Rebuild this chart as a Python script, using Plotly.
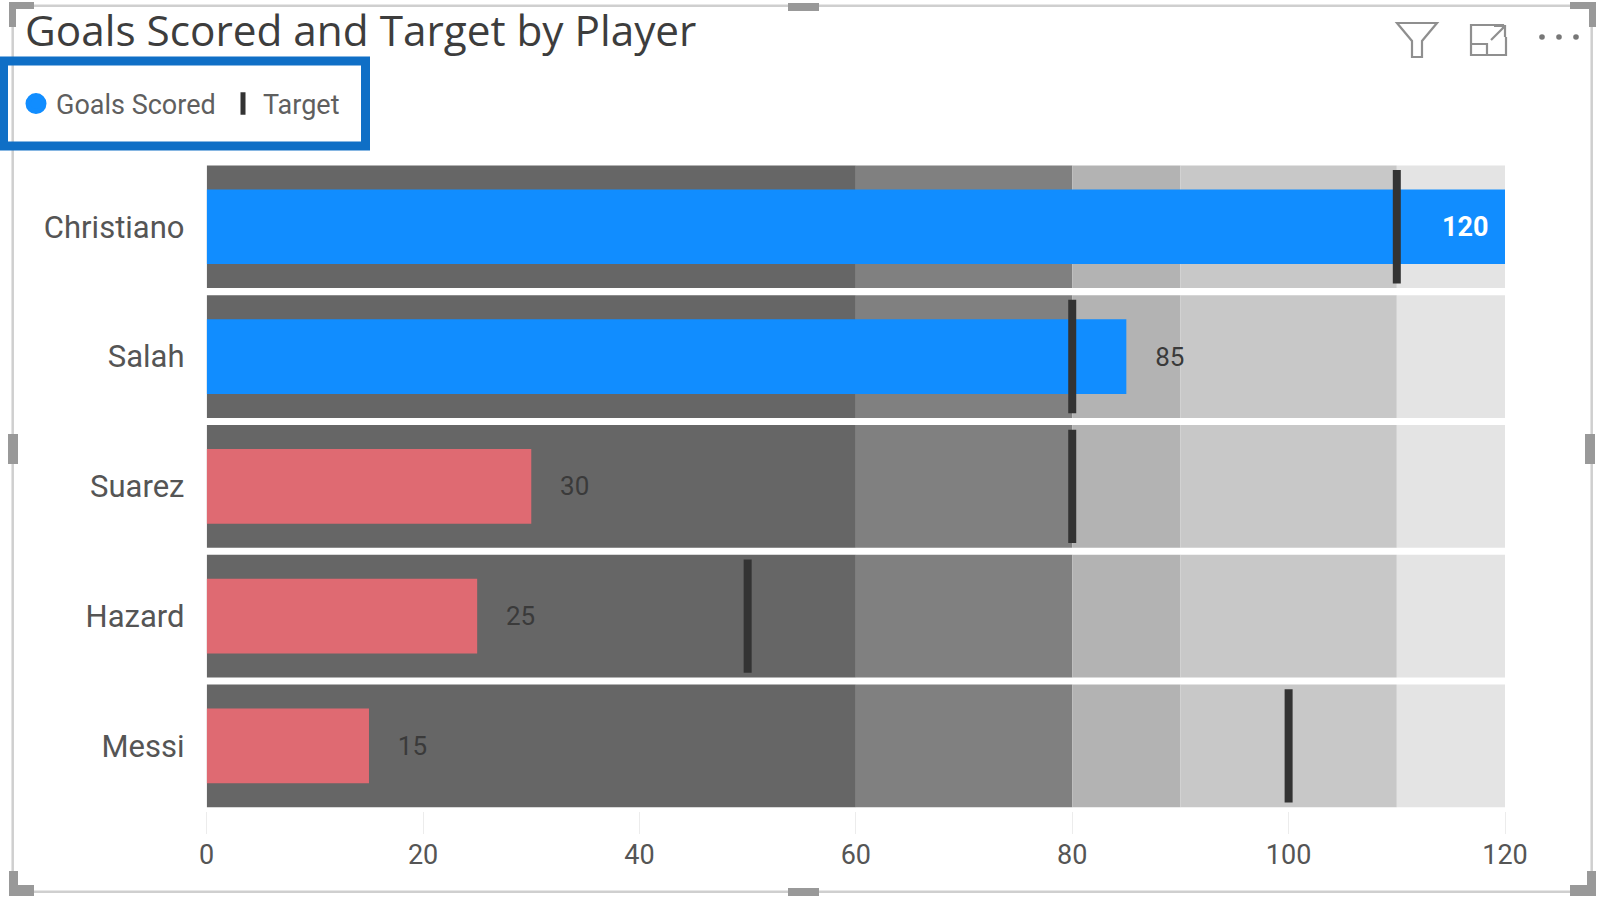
import plotly.graph_objects as go

players = ["Christiano", "Salah", "Suarez", "Hazard", "Messi"]
goals = [120, 85, 30, 25, 15]
targets = [110, 80, 80, 50, 100]
band_starts = [0, 60, 80, 90, 110]
band_sizes = [60, 20, 10, 20, 10]
band_colors = ["#666666", "#808080", "#b3b3b3", "#c8c8c8", "#e4e4e4"]
x_ticks = [0, 20, 40, 60, 80, 100, 120]

BLUE, RED = "#118dff", "#df6a72"
W, H = 1600, 908
FONT = "Roboto"

def px(x):
    return x / W

def py(y):
    return 1 - y / H

fig = go.Figure()
for start, size, color in zip(band_starts, band_sizes, band_colors):
    fig.add_trace(go.Bar(
        y=players, x=[size] * len(players), base=[start] * len(players),
        orientation="h", width=0.945, marker=dict(color=color, line_width=0),
        showlegend=False, hoverinfo="skip"))

bar_colors = [BLUE if g >= t else RED for g, t in zip(goals, targets)]
labels = [f"{g}\u00a0\u00a0" if g >= 120 else f"\u00a0\u00a0\u00a0\u00a0{g}" for g in goals]
positions = ["inside" if g >= 120 else "outside" for g in goals]
fig.add_trace(go.Bar(
    y=players, x=goals, orientation="h", width=0.575,
    marker=dict(color=bar_colors, line_width=0),
    text=labels, textposition=positions, insidetextanchor="end", textangle=0,
    insidetextfont=dict(color="white", size=27, family=FONT, weight="bold"),
    outsidetextfont=dict(color="#3a3a3a", size=26, family=FONT),
    cliponaxis=False, showlegend=False))

fig.add_trace(go.Scatter(
    x=targets, y=players, mode="markers", name="Target",
    marker=dict(symbol="line-ns", size=81, color="#333333",
                line=dict(color="#333333", width=8)),
    cliponaxis=False, showlegend=True))
fig.add_trace(go.Scatter(
    x=[None], y=[None], mode="markers", name="Goals Scored",
    marker=dict(symbol="circle", size=16, color=BLUE, line=dict(color=BLUE, width=5)),
    showlegend=True))

shapes = []
def rect(x0, y0, x1, y1, fill=None, line=None, lw=0):
    shapes.append(dict(type="rect", xref="paper", yref="paper", x0=px(x0), x1=px(x1),
                       y0=py(y1), y1=py(y0), fillcolor=fill,
                       line=dict(color=line, width=lw) if line else dict(width=0)))

def path(points, color, lw=2.2, close=False, fill=None):
    d = "M" + " L".join(f"{px(x):.5f},{py(y):.5f}" for x, y in points) + (" Z" if close else "")
    shapes.append(dict(type="path", xref="paper", yref="paper", path=d,
                       line=dict(color=color, width=lw), fillcolor=fill))

FRAME, HANDLE = "#cfcfcf", "#999999"
rect(12.7, 5.7, 1591.7, 891.7, line=FRAME, lw=2.5)
for a, b, c, d in [(9, 2, 34, 9), (9, 2, 16, 27), (1570, 2, 1596, 9), (1589, 2, 1596, 27),
                   (9, 885, 34, 896), (9, 871, 18, 896), (1570, 885, 1596, 896), (1587, 871, 1596, 896),
                   (788, 3, 819, 11), (788, 888, 819, 896), (8, 434, 18, 464), (1585, 434, 1595, 464)]:
    rect(a, b, c, d, fill=HANDLE)
rect(3.5, 61, 365.5, 146, line="#0f6fc6", lw=9)

ICON = "#8f8f8f"
path([(1397, 23), (1437, 23), (1422, 41), (1422, 57), (1412, 57), (1412, 41)], ICON, close=True)
path([(1503, 28), (1503, 25), (1471, 25), (1471, 55), (1506, 55), (1506, 37)], ICON)
path([(1471, 44), (1487, 44), (1487, 55)], ICON)
path([(1491, 40), (1505, 26)], ICON)
path([(1494, 26), (1505, 26), (1505, 37)], ICON)
for cx in (1542, 1559, 1576):
    shapes.append(dict(type="circle", xref="paper", yref="paper", x0=px(cx - 2.8), x1=px(cx + 2.8),
                       y0=py(37 + 2.8), y1=py(37 - 2.8), fillcolor="#777777", line_width=0))

fig.update_layout(
    width=W, height=H, autosize=False, barmode="overlay",
    paper_bgcolor="white", plot_bgcolor="white",
    margin=dict(l=0, r=0, t=0, b=0, autoexpand=False), shapes=shapes,
    font=dict(family=FONT, color="#555555"),
    title=dict(text="Goals Scored and Target by Player", x=px(25), xanchor="left", automargin=False,
               y=py(31), yanchor="middle", font=dict(size=42.3, color="#3d3d3d", family="Open Sans")),
    legend=dict(orientation="h", x=px(16), xanchor="left", y=py(104), yanchor="middle",
                font=dict(size=27, color="#5f5f5f", family=FONT), traceorder="reversed",
                entrywidth=162, entrywidthmode="pixels", bgcolor="rgba(0,0,0,0)"),
    xaxis=dict(domain=[px(206.7), px(1505)], range=[0, 120], tickvals=x_ticks, showgrid=False,
               automargin=False, zeroline=False, showline=False, ticks="outside", ticklen=22,
               tickcolor="#ececec", tickfont=dict(size=27, color="#555555"), ticklabelstandoff=-2),
    yaxis=dict(domain=[py(810.8), py(161.9)], range=[4.5, -0.5], showgrid=False, zeroline=False,
               automargin=False, showline=False, ticks="outside", ticklen=15,
               tickcolor="rgba(0,0,0,0)", tickfont=dict(size=31, color="#555555")),
)
fig.write_html("out.html", config=dict(displayModeBar=False),
               post_script="document.body.style.margin='0';")
